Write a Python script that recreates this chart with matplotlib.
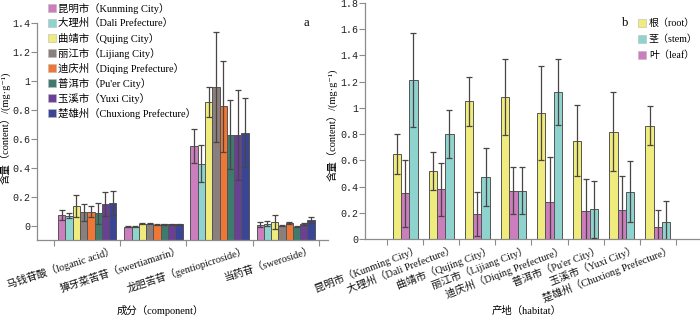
import matplotlib
matplotlib.use('Agg')
import matplotlib.pyplot as plt
from matplotlib.patches import Rectangle
from matplotlib.transforms import offset_copy
import numpy as np

plt.rcParams['font.family'] = ['Liberation Serif', 'Noto Sans CJK SC', 'DejaVu Sans']
plt.rcParams['font.size'] = 7.5

W, H = 700, 316

# ---------------- data ----------------
components = ['马钱苷酸（loganic acid）', '獐牙菜苦苷（swertiamarin）',
              '龙胆苦苷（gentiopicroside）', '当药苷（sweroside）']
regions = ['昆明市（Kunming City）', '大理州（Dali Prefecture）', '曲靖市（Qujing City）',
           '丽江市（Lijiang City）', '迪庆州（Diqing Prefecture）', "普洱市（Pu'er City）",
           '玉溪市（Yuxi City）', '楚雄州（Chuxiong Prefecture）']
region_colors = ['#CC7DBE', '#8FD3CF', '#EFEB7D', '#8A7F7D',
                 '#EE7735', '#3E7A6E', '#6B3F98', '#3B4595']

# panel a: content of each component, per region
loganic_mean = [0.075, 0.067, 0.134, 0.092, 0.097, 0.085, 0.148, 0.155]
loganic_err = [0.035, 0.018, 0.077, 0.058, 0.039, 0.072, 0.083, 0.083]
swertiamarin_mean = [-0.007, -0.007, 0.014, 0.014, 0.005, 0.010, 0.010, 0.008]
swertiamarin_err = [0.003, 0.003, 0.003, 0.006, 0.003, 0.003, 0.003, 0.004]
gentio_mean = [0.55, 0.427, 0.855, 0.958, 0.825, 0.628, 0.628, 0.642]
gentio_err = [0.12, 0.127, 0.104, 0.38, 0.315, 0.238, 0.31, 0.24]
sweroside_mean = [0.007, 0.014, 0.023, 0.000, 0.016, -0.007, 0.009, 0.037]
sweroside_err = [0.018, 0.014, 0.049, 0.004, 0.007, 0.004, 0.008, 0.021]

# panel b: content per organ, per region
organs = ['根（root）', '茎（stem）', '叶（leaf）']
organ_colors = {'根（root）': '#EFEB7D', '茎（stem）': '#8FD3CF', '叶（leaf）': '#CC7DBE'}
root_mean = [0.65, 0.52, 1.05, 1.085, 0.963, 0.748, 0.819, 0.865]
root_err = [0.15, 0.145, 0.185, 0.29, 0.357, 0.27, 0.30, 0.15]
leaf_mean = [0.35, 0.38, 0.193, 0.37, 0.286, 0.215, 0.223, 0.096]
leaf_err = [0.255, 0.20, 0.17, 0.18, 0.34, 0.245, 0.26, 0.13]
stem_mean = [1.212, 0.80, 0.477, 0.37, 1.118, 0.228, 0.362, 0.129]
stem_err = [0.356, 0.185, 0.22, 0.18, 0.25, 0.215, 0.23, 0.165]

yticks_a = [0, 0.2, 0.4, 0.6, 0.8, 1.0, 1.2, 1.4]
yticks_b = [0, 0.2, 0.4, 0.6, 0.8, 1.0, 1.2, 1.4, 1.6, 1.8]

# ---------------- figure ----------------
fig = plt.figure(figsize=(W / 100, H / 100), dpi=100)
EDGE = '#555555'
ERR = '#4a4444'
AXC = '#8c8c8c'
TICKFONT = ['Liberation Mono', 'DejaVu Sans Mono']


def style_axes(ax):
    for s in ('top', 'right'):
        ax.spines[s].set_visible(False)
    for s in ('left', 'bottom'):
        ax.spines[s].set_color(AXC)
        ax.spines[s].set_linewidth(0.9)
    ax.tick_params(axis='both', direction='out', length=4, width=0.8, pad=1,
                   color=AXC, labelsize=7.2, labelcolor='#222222')


# ---- panel a ----
ax1 = fig.add_axes([37 / W, 1 - 240 / H, (328 - 37) / W, (240 - 23) / H])
style_axes(ax1)
base_a = -0.1
comp_means = np.array([loganic_mean, swertiamarin_mean, gentio_mean, sweroside_mean])
comp_errs = np.array([loganic_err, swertiamarin_err, gentio_err, sweroside_err])
xc = np.arange(len(components))
wa = 0.11
for j, reg in enumerate(regions):
    xs = xc + (j - 3.5) * wa
    m = comp_means[:, j]
    ax1.bar(xs, m - base_a, bottom=base_a, width=wa, color=region_colors[j],
            edgecolor=EDGE, linewidth=0.7, zorder=2)
    ax1.errorbar(xs, m, yerr=comp_errs[:, j], fmt='none', ecolor=ERR,
                 elinewidth=0.9, capsize=2, capthick=0.9, zorder=3)
ax1.set_ylim(base_a, 1.4)
ax1.set_xlim(-0.76, 3.64)
ax1.set_yticks(yticks_a)
ax1.set_yticklabels([f'{v:g}' for v in yticks_a], family=TICKFONT)
ax1.set_xticks(np.arange(len(components) + 1) - 0.5)
ax1.set_xticklabels([])
tr1 = offset_copy(ax1.transData, fig=fig, x=26, y=-5, units='dots')
for i, name in enumerate(components):
    ax1.text(i, base_a, name, transform=tr1, rotation=18, rotation_mode='anchor',
             ha='right', va='top', fontsize=7.5, color='#111111', clip_on=False)

fig.text(160 / W, 1 - 311 / H, '成分（component）', ha='center', va='center', fontsize=7.5)
fig.text(6 / W, 1 - 128 / H, '含量（content）/(mg·g⁻¹)', rotation=90,
         ha='center', va='center', fontsize=7.5)
fig.text(306 / W, 1 - 23 / H, 'a', ha='center', va='center', fontsize=9)

# legend a (manual squares)
for j, reg in enumerate(regions):
    yc = 8.3 + 15.0 * j
    fig.add_artist(Rectangle((48 / W, 1 - (yc + 4) / H), 8 / W, 8 / H,
                             transform=fig.transFigure, facecolor=region_colors[j],
                             edgecolor='#bbbbbb', linewidth=0.4))
    fig.text(58 / W, 1 - yc / H, reg, ha='left', va='center', fontsize=7.5)

# ---- panel b ----
ax2 = fig.add_axes([365 / W, 1 - 239.3 / H, (699 - 365) / W, (239.3 - 2.7) / H])
style_axes(ax2)
xr = np.arange(len(regions))
wb = 0.23
series_b = [('根（root）', root_mean, root_err),
            ('叶（leaf）', leaf_mean, leaf_err),
            ('茎（stem）', stem_mean, stem_err)]
for k, (nm, m, e) in enumerate(series_b):
    xs = xr + (k - 1) * wb
    ax2.bar(xs, m, width=wb, color=organ_colors[nm], edgecolor=EDGE,
            linewidth=0.7, zorder=2)
    ax2.errorbar(xs, m, yerr=e, fmt='none', ecolor=ERR, elinewidth=0.9,
                 capsize=2, capthick=0.9, zorder=3)
ax2.set_ylim(0, 1.8)
ax2.set_xlim(-1.11, 8.14)
ax2.set_yticks(yticks_b)
ax2.set_yticklabels([f'{v:g}' for v in yticks_b], family=TICKFONT)
ax2.set_xticks(np.arange(len(regions) + 1) - 0.5)
ax2.set_xticklabels([])
tr2 = offset_copy(ax2.transData, fig=fig, x=12, y=-5, units='dots')
for i, name in enumerate(regions):
    ax2.text(i, 0, name, transform=tr2, rotation=21, rotation_mode='anchor',
             ha='right', va='top', fontsize=7.5, color='#111111', clip_on=False)

fig.text(527 / W, 1 - 311 / H, '产地（habitat）', ha='center', va='center', fontsize=7.5)
fig.text(333 / W, 1 - 125 / H, '含量（content）/(mg·g⁻¹)', rotation=90,
         ha='center', va='center', fontsize=7.5)
fig.text(625 / W, 1 - 23 / H, 'b', ha='center', va='center', fontsize=9)

for k, nm in enumerate(organs):
    yc = 22.7 + 16.2 * k
    fig.add_artist(Rectangle((638 / W, 1 - (yc + 4) / H), 8 / W, 8 / H,
                             transform=fig.transFigure, facecolor=organ_colors[nm],
                             edgecolor='#bbbbbb', linewidth=0.4))
    fig.text(649 / W, 1 - yc / H, nm, ha='left', va='center', fontsize=7.2)

fig.savefig('out.png', dpi=100)
